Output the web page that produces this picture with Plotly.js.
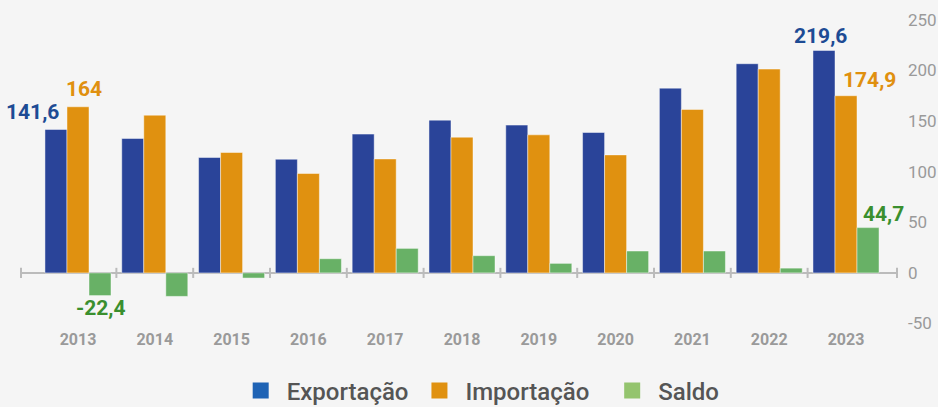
<!DOCTYPE html>
<html>
<head>
<meta charset="utf-8">
<script src="https://cdn.plot.ly/plotly-3.0.1.min.js"></script>
<style>
  html, body { margin: 0; padding: 0; background: #f5f5f5; }
  #chart { width: 938px; height: 407px; }
</style>
</head>
<body>
<div id="chart"></div>
<script>
// ---- data ----
const years = ["2013","2014","2015","2016","2017","2018","2019","2020","2021","2022","2023"];
const exportacao = [141.6, 132.7, 113.9, 112.2, 137.0, 150.8, 145.9, 138.6, 182.4, 206.5, 219.6];
const importacao = [164.0, 155.7, 118.9, 98.1, 112.5, 134.0, 136.3, 116.5, 161.4, 201.2, 174.9];
const saldo = [-22.4, -23.2, -5.1, 14.0, 24.2, 17.0, 9.4, 21.6, 21.6, 4.7, 44.7];
const seriesNames = ["Exportação", "Importação", "Saldo"];
const yTicks = [-50, 0, 50, 100, 150, 200, 250];

// ---- styling ----
const barColors = ["#2a4499", "#e09110", "#68b166"];
const legendColors = ["#1f63b5", "#e09110", "#94c46e"];
const labelColors = ["#1d4b94", "#e0900f", "#3a8f2e"];
const nb = '\u00a0';
const legendPad = [[1, 1], [1, 3], [1, 0]]; // leading / trailing spacing per entry
const fmt = v => String(v).replace('.', ',');

const series = [exportacao, importacao, saldo];
const traces = series.map((vals, i) => ({
  type: 'bar',
  x: years,
  y: vals,
  name: seriesNames[i],
  showlegend: false,
  marker: { color: barColors[i], line: { color: 'rgba(255,255,255,0.45)', width: 1 } },
  hoverinfo: 'x+y'
}));
seriesNames.forEach((n, i) => {
  traces.push({
    type: 'scatter', mode: 'markers', x: [null], y: [null],
    name: nb.repeat(legendPad[i][0]) + n + nb.repeat(legendPad[i][1]),
    marker: { symbol: 'square', size: 16, color: legendColors[i] },
    showlegend: true, hoverinfo: 'skip'
  });
});

const first = 0, last = years.length - 1;
const annDefs = [
  { s: 0, idx: first, dx: -45, dy: 17 },
  { s: 1, idx: first, dx: 6, dy: 18 },
  { s: 2, idx: first, dx: 23, dy: -12 },
  { s: 0, idx: last, dx: -26, dy: 14 },
  { s: 1, idx: last, dx: 23, dy: 16 },
  { s: 2, idx: last, dx: 37, dy: 14 }
];
const annotations = annDefs.map(d => ({
  x: d.idx, y: series[d.s][d.idx], xref: 'x', yref: 'y',
  text: '<b>' + fmt(series[d.s][d.idx]) + '</b>', showarrow: false,
  xshift: d.dx, yshift: d.dy, xanchor: 'center', yanchor: 'middle',
  font: { family: 'Roboto, sans-serif', size: 21, color: labelColors[d.s] }
}));

const xMin = -0.742, xMax = 10.664;
const shapes = [];
for (let i = 0; i < years.length - 1; i++) {
  shapes.push({ type: 'line', xref: 'x', yref: 'y', x0: i + 0.5, x1: i + 0.5, y0: -5, y1: 5,
    line: { color: '#bbbbbb', width: 2 } });
}
[0, 1].forEach(px => shapes.push({ type: 'line', xref: 'paper', yref: 'y', x0: px, x1: px, y0: -5, y1: 5,
  line: { color: '#bbbbbb', width: 2 } }));

const layout = {
  width: 938, height: 407,
  paper_bgcolor: '#f5f5f5', plot_bgcolor: '#f5f5f5',
  margin: { l: 21, r: 41, t: 15, b: 79 },
  barmode: 'group', bargap: 0.14, bargroupgap: 0,
  font: { family: 'Roboto, sans-serif' },
  xaxis: {
    type: 'category', range: [xMin, xMax], showgrid: false, zeroline: false, showline: false,
    ticks: '', tickfont: { family: 'Roboto, sans-serif', size: 16, color: '#9a9a9a', weight: 700 },
    fixedrange: true, automargin: false
  },
  yaxis: {
    side: 'right', range: [-54.4, 254.6], tickvals: yTicks, ticktext: yTicks.map(String),
    showgrid: false,
    zeroline: true, zerolinecolor: '#bbbbbb', zerolinewidth: 2, showline: false, ticks: '',
    ticklabelstandoff: 10, automargin: false,
    tickfont: { family: 'Roboto, sans-serif', size: 17, color: '#9a9a9a' }, fixedrange: true
  },
  legend: {
    orientation: 'h', xref: 'container', yref: 'container',
    x: 0.5146, xanchor: 'center', y: 0.095, yanchor: 'top',
    font: { family: 'Roboto, sans-serif', size: 24, color: '#555555', weight: 500 },
    itemsizing: 'trace', bgcolor: 'rgba(0,0,0,0)'
  },
  annotations: annotations,
  shapes: shapes,
  showlegend: true
};

Plotly.newPlot('chart', traces, layout, { displayModeBar: false, staticPlot: true });
</script>
</body>
</html>
